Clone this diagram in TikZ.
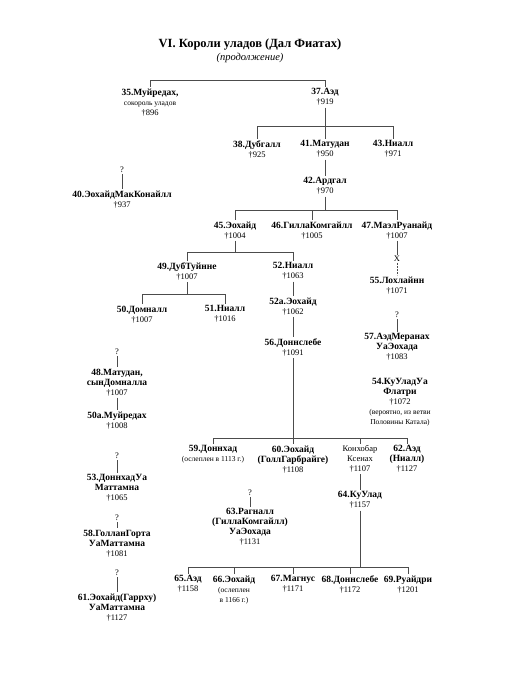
\documentclass[tikz,border=0pt]{standalone}
\usepackage{fontspec}
\setmainfont{Liberation Serif}
\tikzset{
  pn/.style={anchor=north, align=center, inner sep=1.5pt, font=\fontsize{8.5}{10}\selectfont},
  qm/.style={inner sep=1pt, font=\fontsize{8.5}{10}\selectfont},
  ln/.style={draw=black!70, line width=0.5pt},
}
\newcommand{\nm}[1]{{\fontsize{9.5}{10}\selectfont\bfseries #1}}
\newcommand{\nt}[1]{{\fontsize{7.5}{10}\selectfont #1}}

\begin{document}
\begin{tikzpicture}[x=1pt,y=-1pt]
\useasboundingbox (0,0) rectangle (517,700);
\node[font=\fontsize{12.5}{14}\selectfont\bfseries] (ttl) at (250,45) {VI. Короли уладов (Дал Фиатах)};
\node[font=\fontsize{10.5}{12}\selectfont\itshape] (sub) at (250,58) {(продолжение)};
% upper generations
\node[pn] (a35) at (150,87) {\nm{35.Муйредах,}\\\nt{сокороль уладов}\\†896};
\node[pn] (a37) at (325,87) {\nm{37.Аэд}\\†919};
\node[pn] (a38) at (257,139) {\nm{38.Дубгалл}\\†925};
\node[pn] (a41) at (325,139) {\nm{41.Матудан}\\†950};
\node[pn] (a43) at (393,139) {\nm{43.Ниалл}\\†971};
\node[pn] (a42) at (325,176) {\nm{42.Ардгал}\\†970};
\node[qm] (q40) at (122,170) {?};
\node[pn] (a40) at (122,189) {\nm{40.ЭохайдМакКонайлл}\\†937};
\node[pn] (a45) at (235,220) {\nm{45.Эохайд}\\†1004};
\node[pn] (a46) at (312,220) {\nm{46.ГиллаКомгайлл}\\†1005};
\node[pn] (a47) at (397,220) {\nm{47.МаэлРуанайд}\\†1007};
\node[qm] (xm) at (397,259) {X};
\node[pn] (a55) at (397,275) {\nm{55.Лохлайнн}\\†1071};
\node[pn] (a49) at (187,261) {\nm{49.ДубТуйнне}\\†1007};
\node[pn] (a52) at (293,261) {\nm{52.Ниалл}\\†1063};
\node[pn] (a50) at (142,304) {\nm{50.Домналл}\\†1007};
\node[pn] (a51) at (225,304) {\nm{51.Ниалл}\\†1016};
\node[pn] (a52a) at (293,296) {\nm{52а.Эохайд}\\†1062};
\node[pn] (a56) at (293,337) {\nm{56.Доннслебе}\\†1091};
\node[qm] (q57) at (397,315) {?};
\node[pn] (a57) at (397,332) {\nm{57.АэдМеранах}\\\nm{УаЭохада}\\†1083};
\node[pn] (a54) at (400,377) {\nm{54.КуУладУа}\\\nm{Флатри}\\†1072\\\nt{(вероятно, из ветви}\\\nt{Половины Катала)}};
% left column
\node[qm] (q48) at (117,352) {?};
\node[pn] (a48) at (117,367) {\nm{48.Матудан,}\\\nm{сынДомналла}\\†1007};
\node[pn] (a50a) at (117,410) {\nm{50а.Муйредах}\\†1008};
\node[qm] (q53) at (117,456) {?};
\node[pn] (a53) at (117,473) {\nm{53.ДоннхадУа}\\\nm{Маттамна}\\†1065};
\node[qm] (q58) at (117,518) {?};
\node[pn] (a58) at (117,528) {\nm{58.ГолланГорта}\\\nm{УаМаттамна}\\†1081};
\node[qm] (q61) at (117,573) {?};
\node[pn] (a61) at (117,592) {\nm{61.Эохайд(Гаррху)}\\\nm{УаМаттамна}\\†1127};
% lower generations
\node[pn] (a59) at (213,444) {\nm{59.Доннхад}\\\nt{(ослеплен в 1113 г.)}};
\node[pn] (a60) at (293,444) {\nm{60.Эохайд}\\\nm{(ГоллГарбрайге)}\\†1108};
\node[pn] (aK) at (360,444) {Конхобар\\Ксенах\\†1107};
\node[pn] (a62) at (407,444) {\nm{62.Аэд}\\\nm{(Ниалл)}\\†1127};
\node[qm] (q63) at (250,493) {?};
\node[pn] (a63) at (250,507) {\nm{63.Рагналл}\\\nm{(ГиллаКомгайлл)}\\\nm{УаЭохада}\\†1131};
\node[pn] (a64) at (360,490) {\nm{64.КуУлад}\\†1157};
\foreach \n/\x/\t in {65/188/{\nm{65.Аэд}\\†1158},
                      66/234/{\nm{66.Эохайд}\\\nt{(ослеплен}\\\nt{в 1166 г.)}},
                      67/293/{\nm{67.Магнус}\\†1171},
                      68/350/{\nm{68.Доннслебе}\\†1172},
                      69/408/{\nm{69.Руайдри}\\†1201}}
  {\node[pn] (a\n) at (\x,574) {\t};}

% bars
\coordinate (b35) at (0,80);
\coordinate (b37) at (0,126);
\coordinate (b42) at (0,210);
\coordinate (b45) at (0,252);
\coordinate (b49) at (0,294);
\coordinate (b56) at (0,438);
\coordinate (b64) at (0,567);
\draw[ln] (a35.north) |- (a37.north |- b35) -- (a37.north);
\draw[ln] (a37) -- (a41);
\draw[ln] (a38.north) |- (a43.north |- b37) -- (a43.north);
\draw[ln] (a41) -- (a42);
\draw[ln] (q40) -- (a40);
\draw[ln] (a42.south) -- (a42.south |- b42);
\draw[ln] (a45.north) |- (a47.north |- b42) -- (a47.north);
\draw[ln] (a46.north) -- (a46.north |- b42);
\draw[ln] (a47) -- (xm);
\draw[ln, densely dotted] (xm) -- (a55);
\draw[ln] (q57) -- (a57);
\draw[ln] (a45.south) -- (a45.south |- b45);
\draw[ln] (a49.north) |- (a52.north |- b45) -- (a52.north);
\draw[ln] (a49.south) -- (a49.south |- b49);
\draw[ln] (a50.north) |- (a51.north |- b49) -- (a51.north);
\draw[ln] (a52) -- (a52a);
\draw[ln] (a52a) -- (a56);
\draw[ln] (a56) -- (a60);
\draw[ln] (a59.north) |- (a62.north |- b56) -- (a62.north);
\draw[ln] (aK.north) -- (aK.north |- b56);
\draw[ln] (aK) -- (a64);
\draw[ln] (q63) -- (a63);
\draw[ln] (a64.south) -- (a64.south |- b64);
\draw[ln] (a65.north) |- (a69.north |- b64) -- (a69.north);
\foreach \n in {66,67,68}
  {\draw[ln] (a\n.north) -- (a\n.north |- b64);}
\draw[ln] (q48) -- (a48);
\draw[ln] (a48) -- (a50a);
\draw[ln] (q53) -- (a53);
\draw[ln] (q58) -- (a58);
\draw[ln] (q61) -- (a61);
\end{tikzpicture}
\end{document}
